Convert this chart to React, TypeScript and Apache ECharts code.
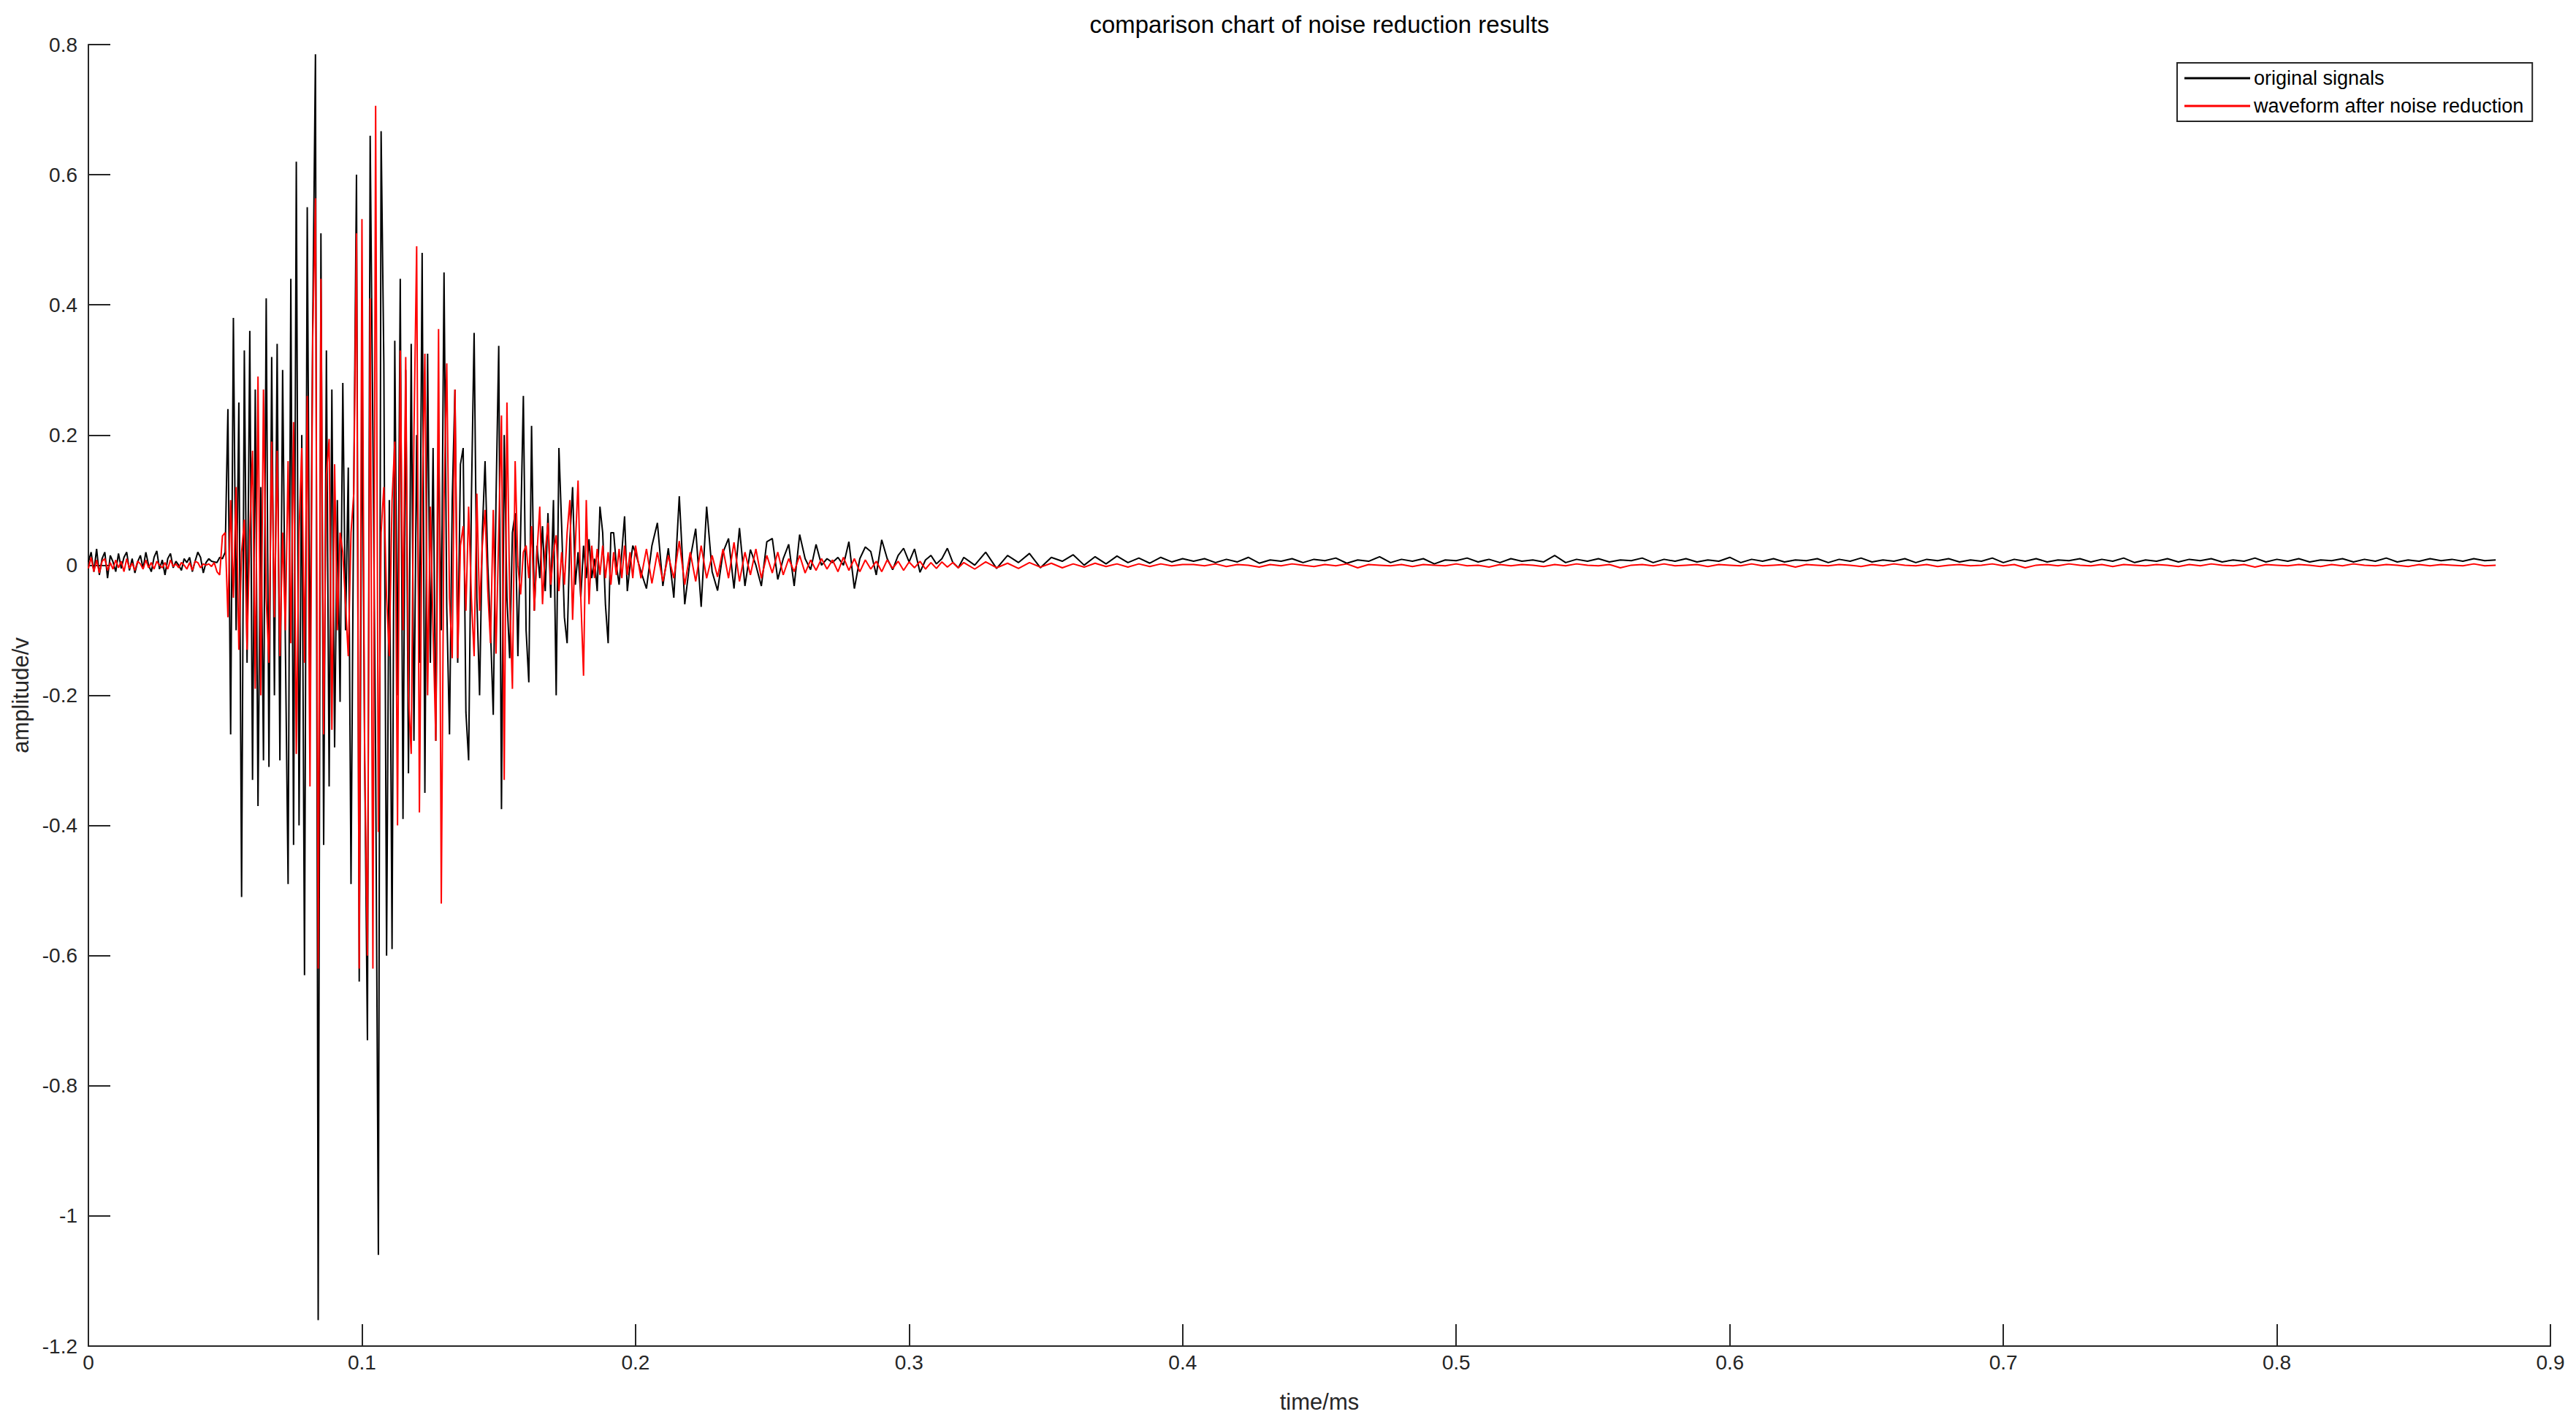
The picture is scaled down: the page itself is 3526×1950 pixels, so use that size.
import { useEffect, useRef } from "react";
import * as echarts from "echarts";

// ---- chart texts ----
const TITLE = "comparison chart of noise reduction results";
const X_NAME = "time/ms";
const Y_NAME = "amplitude/v";
const SERIES_NAMES = ["original signals", "waveform after noise reduction"];
const SERIES_COLORS = ["#000000", "#ff0000"];

// ---- axis ranges / ticks ----
const X_MIN = 0;
const X_MAX = 0.9;
const X_STEP = 0.1;
const Y_MIN = -1.2;
const Y_MAX = 0.8;
const Y_STEP = 0.2;

// ---- sampling segments (time in ms): start and step of each data segment ----
const SEG_START = [0, 0.05, 0.2, 0.32];
const SEG_STEP = [0.001, 0.001, 0.002, 0.004];

// ---- original signal (black) ----
const BLACK_PRE = [
  0.005, 0.02, -0.01, 0.025, -0.015, 0.01, 0.02, -0.02, 0.015, 0.005,
  -0.01, 0.018, -0.005, 0.012, 0.02, -0.008, 0.01, -0.012, 0.005, 0.015,
  -0.005, 0.02, 0.0, -0.01, 0.012, 0.022, -0.006, 0.008, -0.015, 0.01,
  0.018, -0.004, 0.006, 0.0, -0.008, 0.01, 0.004, 0.012, -0.01, 0.006,
  0.02, 0.012, -0.012, 0.004, 0.01, 0.006, 0.005, 0.004, 0.012, 0.01,
];
const BLACK_BURST = [
  0.02, 0.24, -0.26, 0.38, -0.1, 0.25, -0.51, 0.33, -0.15, 0.36,
  -0.33, 0.27, -0.37, 0.12, -0.3, 0.41, -0.31, 0.32, -0.2, 0.34,
  -0.3, 0.3, -0.12, -0.49, 0.44, -0.43, 0.62, -0.4, 0.2, -0.63,
  0.55, -0.2, 0.37, 0.785, -1.16, 0.51, -0.43, 0.33, -0.34, 0.27,
  -0.28, 0.1, -0.21, 0.28, -0.1, 0.15, -0.49, 0.12, 0.6, -0.64,
  0.28, -0.3, -0.73, 0.66, 0.2, -0.3, -1.06, 0.667, 0.31, -0.6,
  0.1, -0.59, 0.345, -0.2, 0.44, -0.39, 0.3, -0.32, 0.34, -0.27,
  0.2, -0.15, 0.48, -0.35, 0.325, -0.15, 0.18, -0.27, 0.2, -0.1,
  0.45, -0.065, -0.26, 0.1, 0.27, -0.15, 0.155, 0.18, -0.226, -0.3,
  0.1, 0.357, -0.05, -0.2, 0.05, 0.16, 0.0, -0.1, -0.23, 0.1,
  0.337, -0.375, 0.2, -0.05, -0.143, 0.05, 0.08, -0.14, 0.05, 0.26,
  -0.1, -0.18, 0.214, -0.07, 0.03, -0.02, 0.06, -0.04, 0.08, -0.05,
  0.1, -0.2, 0.18, 0.06, -0.08, -0.12, 0.04, 0.12, -0.03, 0.02,
  -0.05, 0.03, -0.02, 0.04, -0.02, 0.01, -0.04, 0.09, 0.05, -0.06,
  -0.12, 0.05, 0.05, 0.0, -0.03, 0.02, 0.075, -0.04, 0.0, 0.03,
];
const BLACK_DECAY = [
  0.019, -0.01, -0.036, 0.03, 0.065, -0.032, 0.026, -0.05, 0.106, -0.06,
  0.01, 0.056, -0.064, 0.09, -0.01, -0.039, 0.02, 0.041, -0.036, 0.057,
  -0.032, 0.024, 0.0, -0.032, 0.036, 0.041, -0.022, 0.01, 0.032, -0.032,
  0.047, 0.01, -0.007, 0.032, 0.0, 0.01, 0.004, 0.012, 0.0, 0.036,
  -0.036, 0.01, 0.028, 0.021, -0.015, 0.039, 0.01, -0.007, 0.015, 0.026,
  0.005, 0.025, -0.011, 0.008, 0.015, 0.002, 0.01, 0.026, 0.004, -0.004,
];
const BLACK_TAIL = [
  0.012, 0.0, 0.02, -0.005, 0.015, 0.004, 0.018, -0.004, 0.012, 0.006,
  0.016, 0.0, 0.013, 0.002, 0.014, 0.004, 0.011, 0.003, 0.012, 0.005, 0.01,
  0.006, 0.01, 0.004, 0.009, 0.005, 0.012, 0.003, 0.008, 0.006, 0.01,
  0.004, 0.009, 0.007, 0.011, 0.003, 0.008, 0.006, 0.013, 0.004, 0.009,
  0.006, 0.01, 0.002, 0.008, 0.007, 0.011, 0.005, 0.009, 0.004, 0.01,
  0.006, 0.008, 0.005, 0.015, 0.004, 0.009, 0.006, 0.01, 0.005, 0.008,
  0.007, 0.011, 0.004, 0.009, 0.006, 0.01, 0.005, 0.008, 0.006, 0.012,
  0.004, 0.009, 0.006, 0.01, 0.005, 0.008, 0.007, 0.01, 0.004, 0.009,
  0.006, 0.011, 0.005, 0.008, 0.006, 0.01, 0.004, 0.009, 0.007, 0.01,
  0.005, 0.008, 0.006, 0.011, 0.004, 0.009, 0.006, 0.01, 0.005, 0.008,
  0.007, 0.01, 0.005, 0.009, 0.006, 0.011, 0.004, 0.008, 0.006, 0.01,
  0.005, 0.009, 0.007, 0.01, 0.005, 0.008, 0.006, 0.011, 0.005, 0.009,
  0.006, 0.01, 0.005, 0.008, 0.007, 0.01, 0.005, 0.009, 0.006, 0.011,
  0.005, 0.008, 0.006, 0.01, 0.007, 0.009, 0.006, 0.01, 0.007, 0.008,
];

// ---- waveform after noise reduction (red) ----
const RED_PRE = [
  -0.005, 0.012, -0.01, 0.008, -0.012, 0.006, 0.01, -0.008, 0.004, -0.006,
  0.008, -0.004, 0.006, -0.01, 0.01, -0.005, 0.003, -0.008, 0.006, 0.002,
  -0.006, 0.008, -0.004, 0.004, -0.006, 0.006, 0.0, -0.004, 0.004, -0.006,
  0.008, -0.002, 0.002, -0.004, 0.004, 0.0, -0.006, 0.004, -0.008, 0.006,
  0.004, -0.004, 0.002, 0.0, 0.002, -0.002, 0.004, -0.01, -0.015, 0.045,
];
const RED_BURST = [
  0.05, -0.08, 0.1, -0.05, 0.12, -0.13, 0.02, 0.07, -0.13, 0.05,
  0.176, -0.19, 0.29, -0.2, 0.27, -0.05, -0.15, 0.19, -0.08, 0.176,
  -0.14, 0.05, -0.1, 0.16, -0.12, 0.22, -0.29, 0.05, 0.18, -0.15,
  0.26, -0.34, 0.35, 0.564, -0.62, 0.44, -0.26, 0.14, 0.194, -0.253,
  0.155, -0.1, 0.05, 0.02, -0.06, -0.14, 0.05, 0.11, 0.51, -0.62,
  0.532, -0.3, -0.6, 0.41, -0.62, 0.706, -0.41, 0.05, 0.12, -0.05,
  -0.14, 0.1, 0.19, -0.4, 0.33, -0.1, 0.32, -0.2, -0.29, 0.2,
  0.49, -0.38, 0.1, 0.325, -0.2, 0.09, -0.1, -0.27, 0.363, -0.52,
  0.1, 0.31, -0.05, -0.143, 0.27, -0.143, 0.03, 0.06, -0.07, 0.09,
  -0.05, -0.14, 0.11, -0.07, 0.03, 0.085, -0.04, -0.12, 0.085, -0.136,
  0.05, 0.23, -0.33, 0.25, -0.05, -0.19, 0.16, 0.0, -0.045, 0.02,
  0.03, -0.02, 0.06, -0.07, 0.02, 0.09, -0.06, 0.02, 0.065, -0.03,
  0.02, 0.046, -0.04, 0.02, -0.03, 0.05, 0.1, -0.084, 0.03, 0.13,
  -0.05, -0.17, 0.1, -0.06, 0.03, -0.02, 0.025, -0.015, 0.03, -0.02,
  0.02, -0.03, 0.02, -0.015, 0.025, -0.02, 0.03, -0.015, 0.02, -0.02,
];
const RED_DECAY = [
  0.03, -0.02, 0.025, -0.028, 0.02, -0.025, 0.015, -0.02, 0.037, -0.03,
  0.02, -0.025, 0.03, -0.02, 0.015, -0.018, 0.025, -0.02, 0.035, -0.025,
  0.02, -0.015, 0.025, -0.02, 0.015, -0.012, 0.02, -0.015, 0.01, -0.01,
  0.015, -0.012, 0.008, -0.008, 0.01, -0.006, 0.008, -0.01, 0.012, -0.008,
  0.01, -0.01, 0.008, -0.006, 0.006, -0.01, 0.008, -0.005, 0.006, -0.008,
  0.005, -0.004, 0.006, -0.006, 0.004, -0.005, 0.005, -0.003, 0.004, -0.004,
];
const RED_TAIL = [
  0.004, -0.006, 0.005, -0.004, 0.003, -0.005, 0.004, -0.003, 0.003, -0.004,
  0.002, -0.003, 0.003, -0.002, 0.002, -0.003, 0.002, -0.002, 0.002, -0.001, 0.001,
  0.001, -0.001, 0.002, -0.002, 0.001, 0.0, -0.003, 0.001, -0.001, 0.002,
  0.0, -0.002, 0.001, -0.001, 0.002, -0.004, 0.001, 0.0, -0.001, 0.001,
  -0.002, 0.001, 0.0, -0.001, 0.002, -0.001, 0.0, -0.003, 0.001, -0.001,
  0.001, 0.0, -0.002, 0.001, -0.001, 0.002, 0.0, -0.001, 0.001, -0.004,
  0.0, 0.001, -0.001, 0.002, -0.001, 0.0, 0.001, -0.002, 0.001, 0.0,
  -0.001, 0.002, -0.001, 0.0, 0.001, -0.003, 0.001, 0.0, -0.001, 0.001,
  0.0, -0.002, 0.001, -0.001, 0.002, 0.0, -0.001, 0.001, -0.002, 0.0,
  0.001, -0.001, 0.0, 0.002, -0.001, 0.001, -0.004, 0.0, 0.001, -0.001,
  0.002, 0.0, -0.001, 0.001, -0.002, 0.001, 0.0, -0.001, 0.001, 0.0,
  -0.002, 0.001, -0.001, 0.002, 0.0, -0.001, 0.001, -0.003, 0.001, 0.0,
  -0.001, 0.001, 0.0, -0.002, 0.001, -0.001, 0.002, 0.0, -0.001, 0.001,
  0.0, -0.002, 0.001, -0.001, 0.001, 0.0, -0.001, 0.002, -0.001, 0.0,
];

const FONT = '"Liberation Sans", Arial, Helvetica, sans-serif';
const AXIS_COLOR = "#262626";

function buildPoints(segments: number[][]): [number, number][] {
  const pts: [number, number][] = [];
  segments.forEach((vals, s) => {
    vals.forEach((v, i) => {
      pts.push([+(SEG_START[s] + i * SEG_STEP[s]).toFixed(4), v]);
    });
  });
  return pts;
}

const fmt = (v: number) => String(Math.round(v * 10) / 10);

export default function App() {
  const ref = useRef<HTMLDivElement>(null);

  useEffect(() => {
    document.body.style.margin = "0";
    if (!ref.current) return;
    const chart = echarts.init(ref.current, null, { renderer: "svg" });
    const blackData = buildPoints([BLACK_PRE, BLACK_BURST, BLACK_DECAY, BLACK_TAIL]);
    const redData = buildPoints([RED_PRE, RED_BURST, RED_DECAY, RED_TAIL]);

    chart.setOption({
      animation: false,
      backgroundColor: "#ffffff",
      title: {
        text: TITLE,
        left: 1806,
        top: 17,
        padding: 0,
        textAlign: "center",
        textStyle: { fontSize: 33, fontWeight: "normal", color: "#000000", fontFamily: FONT },
      },
      legend: {
        data: SERIES_NAMES.map((n) => ({ name: n, icon: "rect" })),
        orient: "vertical",
        left: 2980,
        top: 86,
        padding: [6, 12, 6, 10],
        itemWidth: 90,
        itemHeight: 3,
        itemGap: 8,
        selectedMode: false,
        borderColor: AXIS_COLOR,
        borderWidth: 2,
        backgroundColor: "#ffffff",
        textStyle: { fontSize: 27, color: "#000000", lineHeight: 30, fontFamily: FONT },
      },
      grid: { left: 121, right: 35, top: 61, bottom: 108, containLabel: false },
      xAxis: {
        type: "value",
        min: X_MIN,
        max: X_MAX,
        interval: X_STEP,
        name: X_NAME,
        nameLocation: "middle",
        nameGap: 61,
        nameTextStyle: { fontSize: 31, color: AXIS_COLOR, fontFamily: FONT },
        axisLine: { show: true, onZero: false, lineStyle: { color: AXIS_COLOR, width: 2 } },
        axisTick: { show: true, inside: true, length: 30, lineStyle: { color: AXIS_COLOR, width: 2 } },
        axisLabel: { fontSize: 28, color: AXIS_COLOR, margin: 8, fontFamily: FONT, formatter: fmt },
        splitLine: { show: false },
      },
      yAxis: {
        type: "value",
        min: Y_MIN,
        max: Y_MAX,
        interval: Y_STEP,
        name: Y_NAME,
        nameLocation: "middle",
        nameRotate: 90,
        nameGap: 77,
        nameTextStyle: { fontSize: 31, color: AXIS_COLOR, fontFamily: FONT },
        axisLine: { show: true, onZero: false, lineStyle: { color: AXIS_COLOR, width: 2 } },
        axisTick: { show: true, inside: true, length: 30, lineStyle: { color: AXIS_COLOR, width: 2 } },
        axisLabel: { fontSize: 28, color: AXIS_COLOR, margin: 15, fontFamily: FONT, formatter: fmt },
        splitLine: { show: false },
      },
      series: [
        {
          name: SERIES_NAMES[0],
          type: "line",
          data: blackData,
          symbol: "none",
          color: SERIES_COLORS[0],
          lineStyle: { color: SERIES_COLORS[0], width: 2 },
          z: 2,
        },
        {
          name: SERIES_NAMES[1],
          type: "line",
          data: redData,
          symbol: "none",
          color: SERIES_COLORS[1],
          lineStyle: { color: SERIES_COLORS[1], width: 2 },
          z: 3,
        },
      ],
    });

    return () => chart.dispose();
  }, []);

  return <div ref={ref} style={{ width: 3526, height: 1950, background: "#ffffff" }} />;
}
